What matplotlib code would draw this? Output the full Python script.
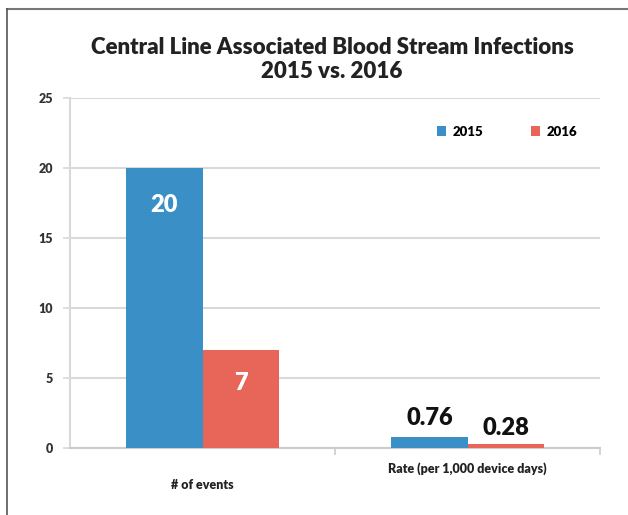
import numpy as np
import matplotlib.pyplot as plt
from matplotlib.lines import Line2D
from matplotlib.transforms import blended_transform_factory

categories = ['# of events', 'Rate (per 1,000 device days)']
series = ['2015', '2016']
vals_2015 = [20, 0.76]
vals_2016 = [7, 0.28]
labels_2015 = ['20', '0.76']
labels_2016 = ['7', '0.28']
yticks = [0, 5, 10, 15, 20, 25]

blue = '#3a8fc7'
red = '#e8655a'
grid_c = '#d9d9d9'

plt.rcParams['font.family'] = ['Lato', 'DejaVu Sans']

fig = plt.figure(figsize=(6.28, 5.15), dpi=100)
ax = fig.add_axes([70/628, 67/515, 530/628, 350/515])

x = np.arange(len(categories))
w = 0.287
b1 = ax.bar(x - w/2, vals_2015, w, color=blue, zorder=3)
b2 = ax.bar(x + w/2, vals_2016, w, color=red, zorder=3)

ax.set_xlim(-0.5, 1.5)
ax.set_ylim(0, 25)
ax.set_yticks(yticks)
ax.set_yticklabels([str(t) for t in yticks], fontsize=9, fontweight='heavy', color='#333333')
ax.yaxis.grid(True, color=grid_c, linewidth=1.5, zorder=0)
ax.tick_params(axis='y', length=5, color=grid_c, width=1.2, pad=7)

ax.set_xticks([0.5, 1.5])
ax.set_xticklabels([])
ax.tick_params(axis='x', length=5, color='#cccccc', width=1.2, direction='out')

for s in ['top', 'right']:
    ax.spines[s].set_visible(False)
ax.spines['left'].set_color(grid_c)
ax.spines['left'].set_linewidth(1.5)
ax.spines['bottom'].set_color('#cccccc')
ax.spines['bottom'].set_linewidth(1.5)

# value labels
ax.text(x[0] - w/2, vals_2015[0] - 2.64, labels_2015[0], ha='center', va='center',
        color='white', fontsize=17, fontweight='heavy', zorder=4)
ax.text(x[0] + w/2, vals_2016[0] - 2.36, labels_2016[0], ha='center', va='center',
        color='white', fontsize=17, fontweight='heavy', zorder=4)
ax.text(x[1] - w/2, vals_2015[1] + 1.38, labels_2015[1], ha='center', va='center',
        color='#111111', fontsize=17, fontweight='heavy', zorder=4)
ax.text(x[1] + w/2, vals_2016[1] + 1.15, labels_2016[1], ha='center', va='center',
        color='#111111', fontsize=17, fontweight='heavy', zorder=4)

# category labels (staggered)
tr = blended_transform_factory(ax.transData, ax.transAxes)
ax.text(x[0], -37/350, categories[0], transform=tr, ha='center', va='center',
        fontsize=9, fontweight='heavy', color='#222222')
ax.text(x[1], -21/350, categories[1], transform=tr, ha='center', va='center',
        fontsize=9, fontweight='heavy', color='#222222')

# legend
ax.legend([b1, b2], series, loc='upper right', bbox_to_anchor=(0.98, 0.955), ncol=2,
          frameon=False, handlelength=0.7, handleheight=0.7, columnspacing=3.6,
          handletextpad=0.5, prop={'size': 9.5, 'weight': 'heavy'})

fig.text(332/628, 1 - 47/515, 'Central Line Associated Blood Stream Infections',
         ha='center', va='center', fontsize=16, fontweight='heavy', color='#222222')
fig.text(332/628, 1 - 72/515, '2015 vs. 2016', ha='center', va='center',
         fontsize=16, fontweight='heavy', color='#222222')

# outer frame
fig.add_artist(Line2D([7/628, 1], [1 - 9/515, 1 - 9/515], color='#777777', lw=1.5,
                      transform=fig.transFigure))
fig.add_artist(Line2D([7/628, 7/628], [0, 1 - 9/515], color='#555555', lw=1.2,
                      transform=fig.transFigure))

fig.savefig('out.png', dpi=100)
